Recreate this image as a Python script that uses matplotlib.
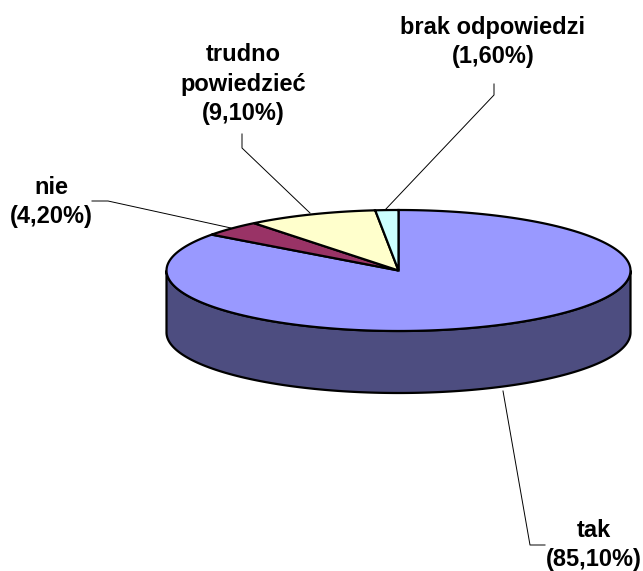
import numpy as np
import matplotlib
matplotlib.use("Agg")
import matplotlib.pyplot as plt

labels = ["tak", "nie", "trudno\npowiedzieć", "brak odpowiedzi"]
values = [85.10, 4.20, 9.10, 1.60]
value_texts = ["(85,10%)", "(4,20%)", "(9,10%)", "(1,60%)"]
colors = ["#9999FF", "#993366", "#FFFFCC", "#CCFFFF"]
side_color = "#4D4D80"

# pie geometry, in image pixels
cx, cy = 398.5, 270.5
rx, ry = 232, 60.5
depth = 62

# text centre of each label and its leader line
label_pos = [(594, 545), (51, 202), (243, 84), (493, 42)]
leaders = [
    [(503, 391), (530, 545), (545, 545)],
    [(92, 201), (108, 201), (231, 228)],
    [(242, 134), (242, 148), (310, 213)],
    [(494, 84), (494, 95), (385, 210)],
]

fig = plt.figure(figsize=(6.43, 5.71), dpi=100)
ax = fig.add_axes([0, 0, 1, 1])
ax.set_xlim(0, 643)
ax.set_ylim(571, 0)
ax.axis("off")

# ----------------------------
# Side wall (front half only)
# ----------------------------
t = np.linspace(0, np.pi, 200)
x = cx + rx * np.cos(t)
y = cy + ry * np.sin(t)
wall_x = np.concatenate([x, x[::-1]])
wall_y = np.concatenate([y, y[::-1] + depth])
ax.fill(wall_x, wall_y, facecolor=side_color, edgecolor="black", linewidth=1.6, zorder=1)

# ----------------------------
# Top face, clockwise from 12 o'clock
# ----------------------------
start = 0
for v, c in zip(values, colors):
    end = start + v / sum(values) * 2 * np.pi
    a = np.linspace(start, end, 200)
    px = np.concatenate([[cx], cx + rx * np.sin(a)])
    py = np.concatenate([[cy], cy - ry * np.cos(a)])
    ax.fill(px, py, facecolor=c, edgecolor="black", linewidth=1.6, joinstyle="miter", zorder=2)
    start = end

# ----------------------------
# Leaders and labels
# ----------------------------
for pts in leaders:
    ax.plot(*zip(*pts), color="black", linewidth=0.7, zorder=3)

for lab, val, (lx, ly) in zip(labels, value_texts, label_pos):
    ax.text(lx, ly, lab + "\n" + val, ha="center", va="center", multialignment="center",
            family="Liberation Sans", weight="bold", fontsize=17, linespacing=1.34, color="black")

fig.savefig("out.png", dpi=100)
plt.close(fig)
